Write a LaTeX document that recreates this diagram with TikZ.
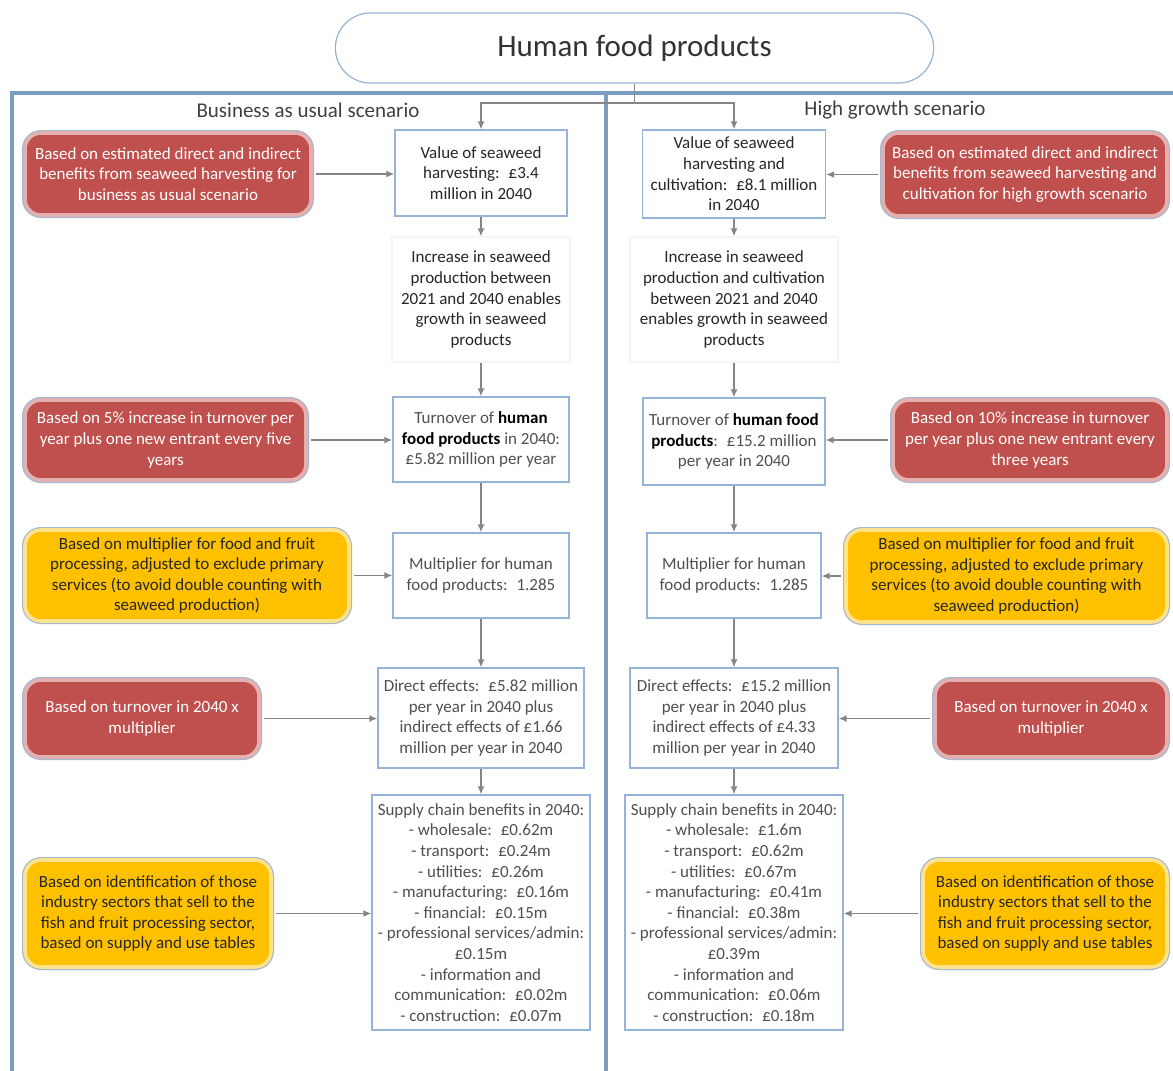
\documentclass[tikz,border=0pt]{standalone}
\usepackage{fontspec}
\setmainfont{Carlito}
\usepackage{tikz}
\usetikzlibrary{shapes.misc,arrows.meta,positioning,calc}
\definecolor{framecol}{HTML}{7A9CC0}
\definecolor{boxedge}{HTML}{95B3D7}
\definecolor{noteedge}{HTML}{A3B7CF}
\definecolor{notered}{HTML}{C0504D}
\definecolor{noteyellow}{HTML}{FFC000}
\definecolor{arrowgrey}{HTML}{858585}
\definecolor{textgrey}{HTML}{505050}
\newcommand\bodyfont{\fontsize{17pt}{20.6pt}\selectfont}
\tikzset{
  box/.style={
    draw=boxedge,
    line width=1.2pt,
    fill=white,
    align=center,
    inner sep=2pt,
    font=\bodyfont,
    text=textgrey,
  },
  note/.style={
    rounded corners=16pt,
    preaction={draw=noteedge, line width=6pt},
    line width=3.6pt,
    align=center,
    inner sep=2pt,
    font=\bodyfont,
  },
  rednote/.style={note, fill=notered, draw=notered!45!white, text=white},
  yellownote/.style={note, fill=noteyellow, draw=noteyellow!45!white, text=black!85},
  arr/.style={-{Latex[length=8pt,width=7pt]}, draw=arrowgrey, line width=1.5pt},
}
\begin{document}
\begin{tikzpicture}[x=1pt, y=-1pt,
        line/.style={draw=arrowgrey, line width=1.5pt},
        scen/.style={font=\fontsize{21pt}{25pt}\selectfont, text=black!75}
    ]
        \useasboundingbox (0,0) rectangle (1173,1071);

        % Title and frames
        \node (title) [rounded rectangle, draw=boxedge, line width=1.2pt,
          minimum width=605pt, minimum height=70pt,
          font=\fontsize{31pt}{36pt}\selectfont, text=black!80] at (634.5,48) {Human food products};
        \draw [framecol, line width=4pt] (12,1071) -- (12,93) -- (1173,93);
        \draw [framecol, line width=4pt] (606,93) -- (606,1071);
        \node (bau) [scen] at (308,110) {Business as usual scenario};
        \node (hgs) [scen] at (895,110) {High growth scenario};

        % Business as usual column
        \node (vL) [box, text=black!85, minimum width=172pt, minimum height=86pt] at (481,173)
          {Value of seaweed\\harvesting:~ £3.4\\million in 2040};
        \node (iL) [box, draw=black!4, text=black!85, minimum width=178pt, minimum height=125pt] at (481,299.5)
          {Increase in seaweed\\production between\\2021 and 2040 enables\\growth in seaweed\\products};
        \node (tL) [box, minimum width=176pt, minimum height=85pt] at (481,439.5)
          {Turnover of \textcolor{black}{\textbf{human}}\\\textcolor{black}{\textbf{food products}} in 2040:\\£5.82 million per year};
        \node (mL) [box, minimum width=176pt, minimum height=85pt] at (481,575.5)
          {Multiplier for human\\food products:~ 1.285};
        \node (dL) [box, minimum width=206pt, minimum height=100pt] at (481,718)
          {Direct effects:~ £5.82 million\\per year in 2040 plus\\indirect effects of £1.66\\million per year in 2040};
        \node (sL) [box, minimum width=218pt, minimum height=235pt] at (481,912.5)
          {Supply chain benefits in 2040:\\- wholesale:~ £0.62m\\- transport:~ £0.24m\\- utilities:~ £0.26m\\- manufacturing:~ £0.16m\\- financial:~ £0.15m\\- professional services/admin:\\£0.15m\\- information and\\communication:~ £0.02m\\- construction:~ £0.07m};

        % High growth column
        \node (vR) [box, text=black!85, minimum width=183pt, minimum height=88pt] at (734,174)
          {Value of seaweed\\harvesting and\\cultivation:~ £8.1 million\\in 2040};
        \node (iR) [box, draw=black!4, text=black!85, minimum width=208pt, minimum height=125pt] at (734,299.5)
          {Increase in seaweed\\production and cultivation\\between 2021 and 2040\\enables growth in seaweed\\products};
        \node (tR) [box, minimum width=182pt, minimum height=87pt] at (734,441.5)
          {Turnover of \textcolor{black}{\textbf{human food}}\\\textcolor{black}{\textbf{products}}:~ £15.2 million\\per year in 2040};
        \node (mR) [box, minimum width=174pt, minimum height=85pt] at (734,575.5)
          {Multiplier for human\\food products:~ 1.285};
        \node (dR) [box, minimum width=208pt, minimum height=100pt] at (734,718)
          {Direct effects:~ £15.2 million\\per year in 2040 plus\\indirect effects of £4.33\\million per year in 2040};
        \node (sR) [box, minimum width=218pt, minimum height=235pt] at (734,912.5)
          {Supply chain benefits in 2040:\\- wholesale:~ £1.6m\\- transport:~ £0.62m\\- utilities:~ £0.67m\\- manufacturing:~ £0.41m\\- financial:~ £0.38m\\- professional services/admin:\\£0.39m\\- information and\\communication:~ £0.06m\\- construction:~ £0.18m};

        % Notes, left
        \node (nL1) [rednote, minimum width=286pt, minimum height=82pt] at (168,174)
          {Based on estimated direct and indirect\\benefits from seaweed harvesting for\\business as usual scenario};
        \node (nL2) [rednote, minimum width=281pt, minimum height=80pt] at (165.5,440)
          {Based on 5\% increase in turnover per\\year plus one new entrant every five\\years};
        \node (nL3) [yellownote, minimum width=324pt, minimum height=91pt] at (187,575.5)
          {Based on multiplier for food and fruit\\processing, adjusted to exclude primary\\services (to avoid double counting with\\seaweed production)};
        \node (nL4) [rednote, minimum width=234pt, minimum height=77pt] at (142,718.5)
          {Based on turnover in 2040 x\\multiplier};
        \node (nL5) [yellownote, minimum width=246pt, minimum height=107pt] at (148,913.5)
          {Based on identification of those\\industry sectors that sell to the\\fish and fruit processing sector,\\based on supply and use tables};

        % Notes, right
        \node (nR1) [rednote, minimum width=284pt, minimum height=83pt] at (1025,174.5)
          {Based on estimated direct and indirect\\benefits from seaweed harvesting and\\cultivation for high growth scenario};
        \node (nR2) [rednote, minimum width=274pt, minimum height=80pt] at (1030,440)
          {Based on 10\% increase in turnover\\per year plus one new entrant every\\three years};
        \node (nR3) [yellownote, minimum width=321pt, minimum height=92pt] at (1006.5,576)
          {Based on multiplier for food and fruit\\processing, adjusted to exclude primary\\services (to avoid double counting with\\seaweed production)};
        \node (nR4) [rednote, minimum width=232pt, minimum height=77pt] at (1051,718.5)
          {Based on turnover in 2040 x\\multiplier};
        \node (nR5) [yellownote, minimum width=244pt, minimum height=107pt] at (1045,913.5)
          {Based on identification of those\\industry sectors that sell to the\\fish and fruit processing sector,\\based on supply and use tables};

        % Connectors
        \coordinate (split) at (title.south |- 0,103);
        \draw [line] (title.south) -- (split);
        \draw [arr] (split) -| (vL.north);
        \draw [arr] (split) -| (vR.north);
        \foreach \a/\b in {vL/iL, iL/tL, tL/mL, mL/dL, dL/sL, vR/iR, iR/tR, tR/mR, mR/dR, dR/sR}
          \draw [arr] (\a.south) -- (\b.north);
        \foreach \n/\b in {nL1/vL, nL2/tL, nL3/mL, nL4/dL, nL5/sL}
          \draw [arr, shorten <=3pt] (\n.east) -- (\n.east -| \b.west);
        \foreach \n/\b in {nR1/vR, nR2/tR, nR3/mR, nR4/dR, nR5/sR}
          \draw [arr, shorten <=3pt] (\n.west) -- (\n.west -| \b.east);

      \end{tikzpicture}
\end{document}
